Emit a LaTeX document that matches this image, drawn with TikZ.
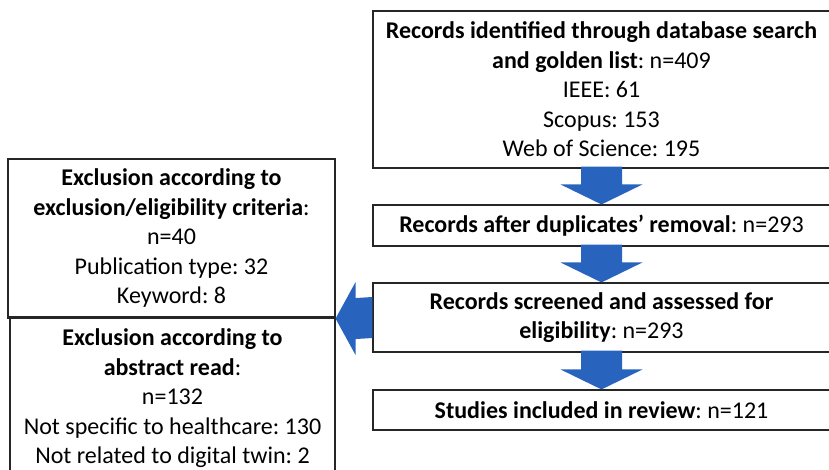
\documentclass[tikz,border=0pt]{standalone}
\usepackage{fontspec}
\setmainfont{Carlito}
\usetikzlibrary{calc}
\definecolor{flowblue}{RGB}{40,100,190}
\frenchspacing
\tikzset{
  box/.style={draw=black!85, line width=1.1pt, align=center, inner sep=0pt,
    font=\fontsize{24}{29.5}\selectfont},
  flow/.style={fill=flowblue}
}
\begin{document}
\begin{tikzpicture}[x=1pt,y=-1pt]
	\useasboundingbox (0,0) rectangle (829,470);
	\clip (0,0) rectangle (829,470);
	% main column
	\path (601.5,89.5) node(rec)[box, minimum width=457pt, minimum height=157pt]
		{\textbf{Records identified through database search}\\
		 \textbf{and golden list}: n=409\\IEEE: 61\\Scopus: 153\\Web of Science: 195}
	(601.5,225.5) node(dup)[box, minimum width=457pt, minimum height=41pt]
		{\textbf{Records after duplicates’ removal}: n=293}
	(601.5,317.5) node(scr)[box, minimum width=457pt, minimum height=69pt]
		{\textbf{Records screened and assessed for}\\\textbf{eligibility}: n=293}
	(601.5,410) node(inc)[box, minimum width=457pt, minimum height=40pt]
		{\textbf{Studies included in review}: n=121};
	% exclusions
	\path (171.5,238.5) node(exc1)[box, minimum width=327pt, minimum height=159pt]
		{\textbf{Exclusion according to}\\\textbf{exclusion/eligibility criteria}:\\
		 n=40\\Publication type: 32\\Keyword: 8}
	(172.5,398.5) node(exc2)[box, minimum width=325pt, minimum height=163pt]
		{\textbf{Exclusion according to}\\\textbf{abstract read}:\\n=132\\
		 Not specific to healthcare: 130\\Not related to digital twin: 2};
	% block arrows
	\foreach \a/\b in {rec/dup, dup/scr, scr/inc}
		\fill[flow] ($(\a.south)+(-20.5,-2)$) -- ($(\a.south)+(20.5,-2)$)
			-- ($(\b.north)+(20.5,-20)$) -- ($(\b.north)+(41,-20)$) -- (\b.north)
			-- ($(\b.north)+(-41,-20)$) -- ($(\b.north)+(-20.5,-20)$) -- cycle;
	\fill[flow] ($(scr.west)+(0,-20.5)$) -- ($(exc1.south east)+(20,-20.5)$)
		-- ($(exc1.south east)+(20,-36.5)$) -- (exc1.south east)
		-- ($(exc1.south east)+(20,36.5)$) -- ($(exc1.south east)+(20,20.5)$)
		-- ($(scr.west)+(0,20.5)$) -- cycle;
\end{tikzpicture}
\end{document}
